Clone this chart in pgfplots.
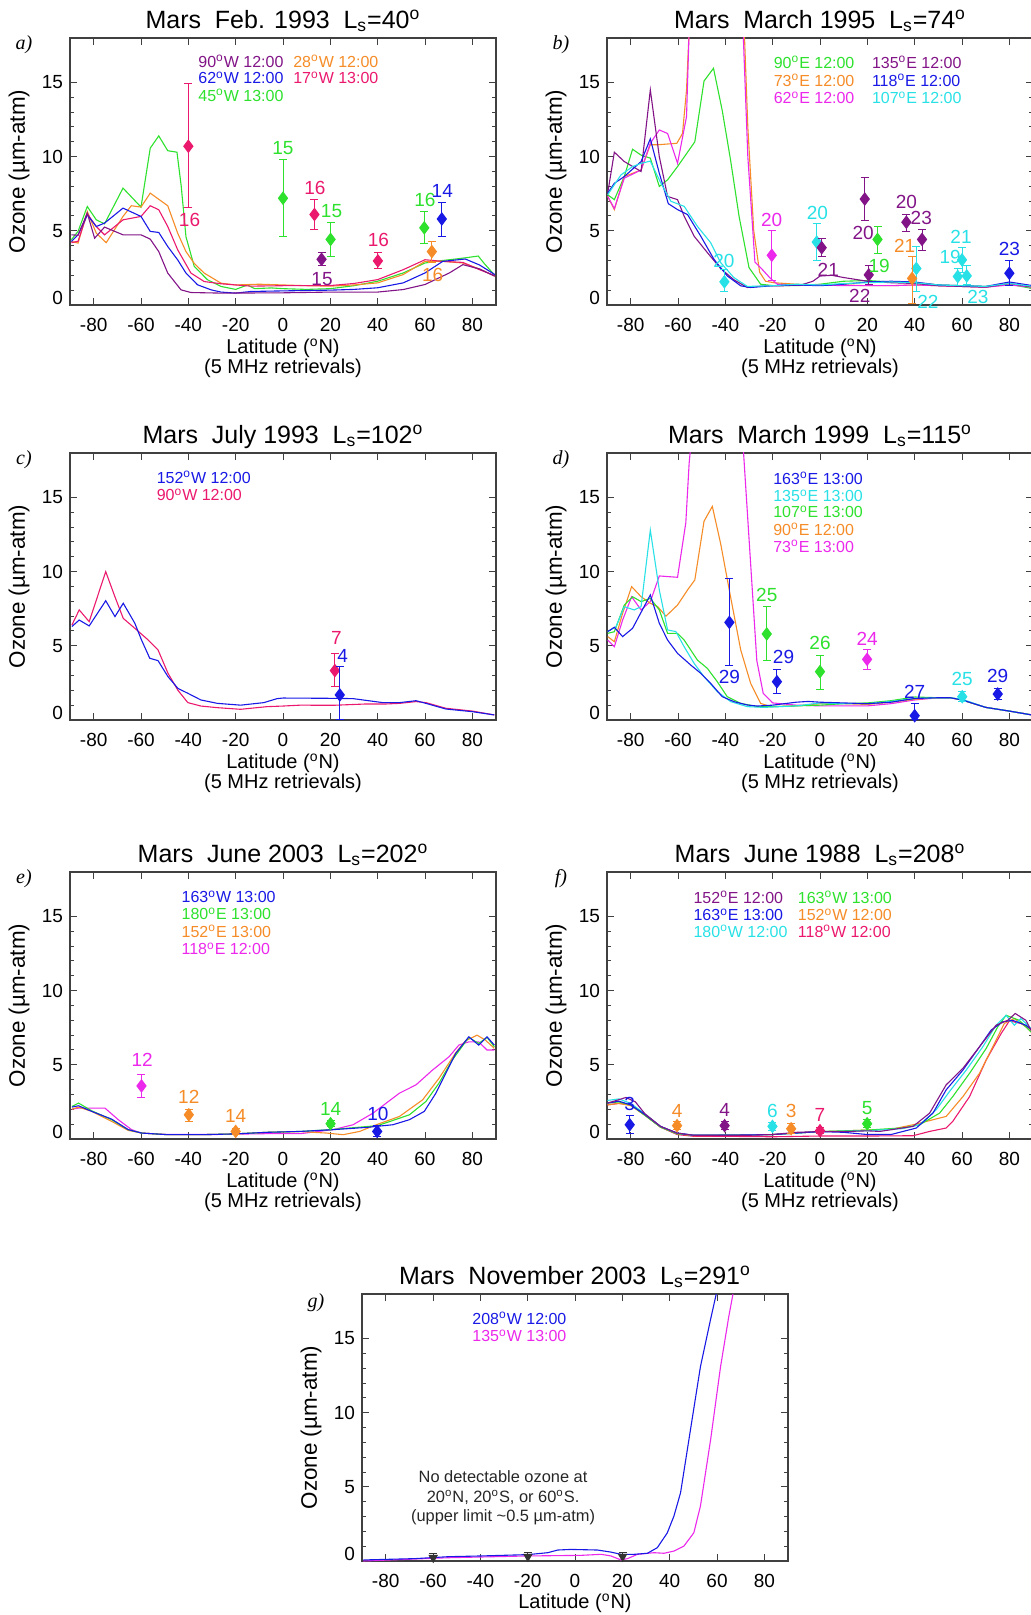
\documentclass[border=0pt]{standalone}
\usepackage{fontspec}
\setmainfont{Liberation Sans}
\newfontfamily\tnr{Liberation Serif}
\usepackage{pgfplots}
\pgfplotsset{compat=1.18}

\definecolor{mpurple}{RGB}{130,20,135}
\definecolor{mblue}{RGB}{25,25,230}
\definecolor{mgreen}{RGB}{45,225,45}
\definecolor{morange}{RGB}{245,140,40}
\definecolor{mpink}{RGB}{235,25,110}
\definecolor{mmag}{RGB}{235,40,235}
\definecolor{mcyan}{RGB}{40,225,230}

\newcommand\dg{\textsuperscript{o}}
\newcommand\tickf{\fontsize{9.5}{11}\selectfont}
\newcommand\titf{\fontsize{12.5}{14}\selectfont}
\newcommand\labf{\fontsize{10}{12}\selectfont}
\newcommand\ylf{\fontsize{11.2}{13}\selectfont}
\newcommand\legf{\fontsize{8}{9.5}\selectfont}
\newcommand\datf{\fontsize{9.5}{11}\selectfont}
\newcommand\notef{\fontsize{8.2}{9.7}\selectfont}
\newcommand\letf{\tnr\itshape\fontsize{10}{12}\selectfont}

% text annotations inside a panel
\newcommand\lab[4]{\node[text=#1,font=\datf,inner sep=0pt] at (axis cs:#2,#3) {#4};}
\newcommand\leg[4]{\node[text=#1,font=\legf,anchor=west,inner sep=0pt] at (axis cs:#2,#3) {#4};}

% title, panel letter and axis labels around a named panel
\newcommand\decor[4]{%
  \node[font=\titf,anchor=base] at ([yshift=4.8pt]#1.north) {#3};
  \node[font=\letf] at ([xshift=-23pt,yshift=-3.5pt]#1.north west) {#2};
  \node[font=\ylf,rotate=90] at ([xshift=-25.4pt]#1.west) {Ozone (µm-atm)};
  \node[font=\labf,anchor=base] at ([yshift=-24.5pt]#1.south) {Latitude (\dg N)};
  \node[font=\labf,anchor=base] at ([yshift=-34.2pt]#1.south) {#4};
}

\pgfplotsset{
  panel/.style={
    width=213pt, height=133.5pt, scale only axis,
    anchor=south west,
    xmin=-90, xmax=90, ymin=0, ymax=18,
    xtick={-80,-60,...,80}, ytick={0,5,10,15},
    yticklabels={\raisebox{3.3pt}[\height][\depth]{0},5,10,15},
    minor y tick num=4,
    tick align=inside,
    major tick length=3.5pt, minor tick length=2pt,
    axis line style={black!75, line width=0.6pt},
    every tick/.style={black!75, line width=0.5pt},
    ticklabel style={font=\tickf},
    xticklabel style={anchor=base, yshift=-13.3pt},
    /pgf/number format/assume math mode=true,
    clip mode=individual,
    every axis plot/.append style={line width=0.55pt},
  },
  pt/.style={only marks, mark=diamond*, mark size=3pt,
    error bars/.cd, y dir=both, y explicit,
    error bar style={line width=0.5pt},
    error mark options={rotate=90, mark size=2pt, line width=0.5pt}},
}

\begin{document}
\begin{tikzpicture}
\useasboundingbox (0,0) rectangle (515.5pt,807.5pt);

% ---------------- a) Feb 1993
\begin{axis}[panel, name=pa, at={(35pt,655pt)}]
\addplot[mgreen] coordinates {(-89.4,4.4)(-86.6,4.96)(-82.7,6.64)(-78.9,5.74)(-75.4,5.47)(-67.6,7.88)(-60,6.6)(-56.1,10.57)(-52.5,11.4)(-48.7,10.4)(-44.8,10.3)(-43,8)(-41,4.6)(-37.5,2.6)(-31.9,1.7)(-26.2,1.25)(-20,1.05)(-15,1.35)(-12,1.1)(-5,1.15)(0,1.1)(10,1.05)(20,1.1)(30,1.3)(40,1.6)(50.8,2.16)(60,2.83)(67.5,3.0)(73,3.1)(78,3.2)(82.5,3.3)(85,2.8)(89.5,2.0)};
\addplot[morange] coordinates {(-89.4,4.28)(-86.6,4.17)(-82.7,6.3)(-78.9,4.84)(-74.7,4.2)(-67.6,5.97)(-64.1,6.69)(-60,6.6)(-56.1,7.54)(-48.7,6.69)(-44.5,4.84)(-41,3.6)(-37.5,2.8)(-33.3,2.15)(-26.2,1.47)(-20,1.35)(-10,1.4)(0,1.35)(10,1.3)(20,1.27)(30,1.35)(40,1.49)(50.8,2.05)(60,2.94)(67.5,2.94)(76,2.83)(83,2.43)(89.5,1.94)};
\addplot[mpink] coordinates {(-89.4,4.2)(-86.6,4.3)(-82.7,6.15)(-78.9,5.29)(-75.4,4.73)(-67.6,5.74)(-60,5.97)(-56.1,6.69)(-52.5,6.42)(-48.7,5.29)(-44.5,3.72)(-38.9,2.15)(-33.3,1.58)(-26.2,1.43)(-20,1.35)(-13.6,1.27)(0,1.3)(20,1.31)(30,1.45)(40,1.71)(50.8,2.38)(60,3.05)(67.5,2.94)(76,2.87)(83,2.38)(89.5,1.98)};
\addplot[mblue] coordinates {(-89.4,4.28)(-86.6,4.73)(-82.7,6.08)(-78.9,5.29)(-75.4,5.52)(-67.6,6.53)(-60,5.97)(-56.1,4.96)(-52.5,4.89)(-48.7,3.94)(-44.5,3.04)(-41,2.15)(-36.1,1.36)(-30.4,1.02)(-26.2,0.87)(-20,0.8)(-13.6,0.91)(0,0.95)(20,1.0)(30,1.05)(40,1.16)(50.8,1.49)(60,2.16)(67.5,2.94)(77,3.1)(83,2.7)(89.5,2.05)};
\addplot[mpurple] coordinates {(-89.4,4.73)(-86.6,4.7)(-82.7,6.19)(-79.6,4.5)(-75.4,5.25)(-67.6,4.73)(-60,4.73)(-56.1,4.44)(-52.5,3.6)(-48.7,2.15)(-43.1,1.02)(-38.9,0.84)(-26.2,0.8)(0,0.82)(20,0.87)(40,0.87)(50.8,1.04)(60,1.38)(70.3,2.16)(76,2.72)(83,2.43)(89.5,1.94)};
\addplot[mpink, pt] coordinates {(-40,10.7) += (0,4.2) -= (0,4.16) (13.3,6.1) += (0,1.0) -= (0,1.0) (40.1,2.97) += (0,0.56) -= (0,0.51)};
\addplot[mgreen, pt] coordinates {(0,7.2) += (0,2.58) -= (0,2.6) (20.1,4.42) += (0,1.16) -= (0,1.12) (59.7,5.2) += (0,1.1) -= (0,1.05)};
\addplot[mpurple, pt] coordinates {(16.3,3.08) += (0,0.49) -= (0,0.45)};
\addplot[morange, pt] coordinates {(62.9,3.6) += (0,0.7) -= (0,0.74)};
\addplot[mblue, pt] coordinates {(67.1,5.8) += (0,1.14) -= (0,1.16)};
\lab{mpink}{-39.5}{5.76}{16}
\lab{mgreen}{0}{10.56}{15}
\lab{mpink}{13.5}{7.88}{16}
\lab{mgreen}{20.5}{6.3}{15}
\lab{mpurple}{16.5}{1.74}{15}
\lab{mpink}{40.3}{4.38}{16}
\lab{mgreen}{60}{7.1}{16}
\lab{morange}{63.2}{2.0}{16}
\lab{mblue}{67.3}{7.72}{14}
\leg{mpurple}{-35.9}{16.43}{90\dg W 12:00}
\leg{morange}{4.2}{16.43}{28\dg W 12:00}
\leg{mblue}{-35.9}{15.32}{62\dg W 12:00}
\leg{mpink}{4.2}{15.32}{17\dg W 13:00}
\leg{mgreen}{-35.9}{14.13}{45\dg W 13:00}
\end{axis}
\decor{pa}{a)}{Mars\hspace{0.55em}Feb. 1993\hspace{0.55em}L\textsubscript{s}=40\dg}{(5 MHz retrievals)}

% ---------------- b) March 1995
\begin{axis}[panel, name=pb, at={(303.5pt,655pt)}]
\addplot[mgreen] coordinates {(-89.7,7.43)(-86.9,7.1)(-82.7,8.66)(-79.2,10.5)(-75.6,10.1)(-71.7,9.9)(-67.9,7.99)(-64.4,8.44)(-60.2,9.33)(-52.9,11)(-49,15.1)(-45,15.96)(-41.3,13.1)(-37.8,9.78)(-34.2,5.98)(-30,2.52)(-25.1,1.4)(-19.5,1.3)(-10,1.3)(0,1.4)(10,1.6)(20,1.65)(30,1.55)(40,1.5)(50,1.35)(60,1.3)(70,1.25)(80,1.4)(90,1.1)};
\addplot[morange] coordinates {(-89.7,7.32)(-86.9,6.43)(-82.7,8.66)(-75.6,9.1)(-71.7,10.8)(-68.6,10.8)(-60.5,10.9)(-58.1,11.56)(-56.4,14.5)(-55.3,18.5)(-32,18.5)(-30.5,12)(-28,5)(-25.5,2.2)(-23,1.6)(-19.5,1.5)(-10,1.4)(0,1.35)(10,1.35)(20,1.3)(30,1.3)(40,1.35)(50,1.3)(60,1.25)(70,1.2)(80,1.4)(90,1.2)};
\addplot[mmag] coordinates {(-89.7,7.32)(-86.9,6.5)(-82.7,8.55)(-75.6,9.1)(-71.7,10.9)(-67.9,11.8)(-64.4,11.56)(-60.2,9.55)(-56.4,12.7)(-55.3,18.5)(-32.5,18.5)(-30.5,10)(-27.5,2.9)(-25,2.5)(-21,1.8)(-18,1.4)(-10,1.35)(0,1.35)(10,1.3)(20,1.3)(30,1.3)(40,1.35)(50,1.3)(60,1.25)(70,1.2)(80,1.35)(90,1.2)};
\addplot[mpurple] coordinates {(-89.7,7.54)(-86.9,10.3)(-82.7,9.67)(-75.6,9.0)(-71.7,14.5)(-67.9,10.0)(-64.4,7.32)(-60.2,7.1)(-57.4,5.98)(-53.2,4.64)(-47.6,3.53)(-42,2.46)(-36.4,1.7)(-30.7,1.18)(-23.7,1.29)(-15,1.3)(-8,1.35)(-3,1.6)(0,1.95)(5,2.0)(10,1.85)(20,1.6)(30,1.5)(40,1.45)(50,1.3)(60,1.25)(70,1.2)(80,1.45)(90,1.2)};
\addplot[mblue] coordinates {(-89.7,7.54)(-86.9,8.2)(-82.7,8.66)(-75.6,9.67)(-71.7,11.2)(-67.9,8.88)(-64.1,6.83)(-60.2,6.43)(-56,6.1)(-50.4,4.64)(-44.8,3.08)(-39.2,1.96)(-33.5,1.29)(-29.3,1.18)(-20,1.3)(-10,1.35)(0,1.3)(10,1.4)(20,1.55)(30,1.6)(40,1.55)(50,1.35)(60,1.3)(70,1.25)(80,1.55)(90,1.3)};
\addplot[mcyan] coordinates {(-89.7,7.43)(-84.1,8.77)(-79.2,9.33)(-75.6,9.55)(-71.7,9.7)(-67.2,8.2)(-63,6.99)(-57.4,6.65)(-51.8,5.3)(-46.2,4.2)(-42,2.86)(-36.4,1.85)(-30.7,1.25)(-20,1.3)(-10,1.4)(0,1.35)(10,1.45)(20,1.5)(30,1.55)(40,1.5)(50,1.35)(60,1.3)(70,1.25)(80,1.45)(90,1.25)};
\addplot[mcyan, pt] coordinates {(-40.4,1.56) += (0,0.81) -= (0,0.66) (-1.4,4.24) += (0,1.23) -= (0,1.27) (40.7,2.46) += (0,1.51) -= (0,1.56) (58.2,1.92) += (0,0.54) -= (0,0.63) (60,3.04) += (0,0.82) -= (0,0.85) (62,1.96) += (0,0.67) -= (0,0.56)};
\addplot[mmag, pt] coordinates {(-20.4,3.35) += (0,1.65) -= (0,1.68)};
\addplot[mpurple, pt] coordinates {(0.7,3.86) += (0,0.6) -= (0,0.62) (18.9,7.14) += (0,1.46) -= (0,1.43) (20.6,2.03) += (0,0.6) -= (0,0.63) (36.5,5.58) += (0,0.51) -= (0,0.6) (43.1,4.42) += (0,0.67) -= (0,0.72)};
\addplot[mgreen, pt] coordinates {(24.3,4.42) += (0,0.89) -= (0,0.94)};
\addplot[morange, pt] coordinates {(38.9,1.79) += (0,1.47) -= (0,1.72)};
\addplot[mblue, pt] coordinates {(80,2.14) += (0,0.83) -= (0,0.85)};
\lab{mcyan}{-40.6}{2.97}{20}
\lab{mmag}{-20.4}{5.76}{20}
\lab{mcyan}{-1.1}{6.2}{20}
\lab{mpurple}{3.5}{2.37}{21}
\lab{mpurple}{18.2}{4.87}{20}
\lab{mpurple}{16.8}{0.63}{22}
\lab{mgreen}{25}{2.63}{19}
\lab{mpurple}{36.5}{6.94}{20}
\lab{mpurple}{42.8}{5.87}{23}
\lab{morange}{35.8}{3.97}{21}
\lab{mcyan}{45.6}{0.18}{22}
\lab{mcyan}{55}{3.24}{19}
\lab{mcyan}{59.6}{4.6}{21}
\lab{mcyan}{66.7}{0.51}{23}
\lab{mblue}{80}{3.75}{23}
\leg{mgreen}{-19.7}{16.36}{90\dg E 12:00}
\leg{mpurple}{21.8}{16.36}{135\dg E 12:00}
\leg{morange}{-19.7}{15.13}{73\dg E 12:00}
\leg{mblue}{21.8}{15.13}{118\dg E 12:00}
\leg{mmag}{-19.7}{13.97}{62\dg E 12:00}
\leg{mcyan}{21.8}{13.97}{107\dg E 12:00}
\end{axis}
\decor{pb}{b)}{Mars\hspace{0.55em}March 1995\hspace{0.55em}L\textsubscript{s}=74\dg}{(5 MHz retrievals)}

% ---------------- c) July 1993
\begin{axis}[panel, name=pc, at={(35pt,447.5pt)}]
\addplot[mpink] coordinates {(-89.2,6.4)(-86.1,7.42)(-81.9,6.63)(-74.9,10)(-71,8.3)(-67.5,6.85)(-62.6,6.18)(-57,5.4)(-52.8,4.72)(-48.6,3.15)(-44.4,2.0)(-40.2,1.17)(-34.7,0.94)(-27.7,0.83)(-17.9,0.72)(-6.7,0.9)(0,0.94)(7.3,1.0)(21.2,0.99)(35.2,1.08)(43.6,1.08)(49.2,1.12)(56.2,1.24)(60.4,1.17)(68.8,0.79)(80,0.6)(89.3,0.34)};
\addplot[mblue] coordinates {(-89.2,6.3)(-86.1,6.74)(-81.9,6.34)(-74.9,8.04)(-71,6.97)(-67.5,7.87)(-62.6,6.52)(-59.8,5.4)(-56.3,4.16)(-52.8,4.0)(-48.6,2.92)(-44.4,2.13)(-40.2,1.8)(-34.7,1.35)(-27.7,1.12)(-17.9,1.0)(-8.1,1.17)(-2.5,1.44)(0,1.48)(21.2,1.46)(29.6,1.44)(42.2,1.17)(49.2,1.17)(56.2,1.3)(60.4,1.12)(68.8,0.74)(80,0.56)(89.3,0.34)};
\addplot[mpink, pt] coordinates {(21.9,3.33) += (0,1.16) -= (0,1.08)};
\addplot[mblue, pt] coordinates {(24,1.69) += (0,1.91) -= (0,1.69)};
\lab{mpink}{22.6}{5.5}{7}
\lab{mblue}{25.2}{4.3}{4}
\leg{mblue}{-53.5}{16.36}{152\dg W 12:00}
\leg{mpink}{-53.5}{15.17}{90\dg W 12:00}
\end{axis}
\decor{pc}{c)}{Mars\hspace{0.55em}July 1993\hspace{0.55em}L\textsubscript{s}=102\dg}{(5 MHz retrievals)}

% ---------------- d) March 1999
\begin{axis}[panel, name=pd, at={(303.5pt,447.5pt)}]
\addplot[mmag] coordinates {(-89.7,5.39)(-86.9,4.94)(-83.4,6.74)(-79.6,8.31)(-75.6,7.42)(-71.7,7.98)(-67.9,9.71)(-60.2,9.62)(-56.7,13.3)(-55.3,17.3)(-54.6,18.5)(-32.5,18.5)(-29.5,11)(-26.7,4.0)(-24,1.8)(-20,1.15)(-10,1.0)(0,0.95)(10,0.95)(20,0.95)(30,1.1)(40,1.35)(50,1.5)(55,1.5)(60,1.35)(70,0.85)(80,0.6)(89.5,0.34)};
\addplot[morange] coordinates {(-89.7,5.62)(-86.9,5.28)(-83.4,7.19)(-79.6,8.99)(-75.6,8.31)(-71.7,7.87)(-68.6,7.64)(-65.1,7.0)(-60.2,7.75)(-56,8.76)(-52.9,9.44)(-49,13.4)(-45.5,14.4)(-42,11.9)(-37.8,8.31)(-33.5,4.72)(-29.3,2.47)(-25.1,1.12)(-20.9,0.9)(-10,0.95)(0,1.1)(10,1.1)(20,1.05)(30,1.2)(40,1.4)(50,1.5)(55,1.5)(60,1.35)(70,0.85)(80,0.6)(89.5,0.34)};
\addplot[mgreen] coordinates {(-89.7,5.84)(-86.9,5.95)(-82.7,7.75)(-79.2,8.31)(-75.6,7.98)(-71.7,8.2)(-67.9,7.42)(-64.4,5.84)(-60.2,5.84)(-57.4,5.39)(-51.8,4.04)(-47.6,3.48)(-43.4,2.58)(-39.2,1.57)(-33.5,1.12)(-26.5,0.9)(-20,0.9)(-10,0.95)(0,1.0)(10,1.1)(20,1.15)(30,1.3)(40,1.55)(50,1.5)(55,1.5)(60,1.35)(70,0.85)(80,0.6)(89.5,0.34)};
\addplot[mcyan] coordinates {(-89.7,5.96)(-86.2,6.29)(-82.7,7.64)(-78.5,7.42)(-75.6,7.64)(-71.7,12.8)(-67.9,8.76)(-64.4,6.07)(-60.9,5.96)(-57.4,4.94)(-53.2,3.82)(-49,2.92)(-43.4,1.91)(-37.8,1.24)(-30.7,0.9)(-23.7,0.85)(-10,0.95)(0,1.15)(10,1.1)(20,1.1)(30,1.25)(40,1.45)(50,1.5)(55,1.5)(60,1.4)(70,0.85)(80,0.6)(89.5,0.34)};
\addplot[mblue] coordinates {(-89.7,5.96)(-86.9,6.25)(-83.4,5.62)(-79.2,6.18)(-71.7,8.43)(-67.9,6.52)(-64.4,5.39)(-60.2,4.49)(-54.6,3.7)(-50.4,3.15)(-46.2,2.47)(-41.3,1.57)(-36.4,1.24)(-30.7,1.01)(-26.5,0.94)(-20,1.0)(-10,1.2)(-5,1.25)(0,1.2)(10,1.15)(20,1.1)(30,1.2)(40,1.45)(50,1.5)(55,1.5)(60,1.35)(70,0.85)(80,0.6)(89.5,0.34)};
\addplot[mblue, pt] coordinates {(-38.3,6.58) += (0,2.97) -= (0,2.92) (-18.2,2.58) += (0,0.79) -= (0,0.78) (40,0.29) += (0,0.83) -= (0,0.29) (75.1,1.75) += (0,0.38) -= (0,0.36)};
\addplot[mgreen, pt] coordinates {(-22.5,5.8) += (0,1.84) -= (0,1.76) (0,3.26) += (0,1.12) -= (0,1.19)};
\addplot[mmag, pt] coordinates {(19.9,4.09) += (0,0.67) -= (0,0.67)};
\addplot[mcyan, pt] coordinates {(60.1,1.57) += (0,0.34) -= (0,0.33)};
\lab{mblue}{-38.3}{2.92}{29}
\lab{mgreen}{-22.5}{8.43}{25}
\lab{mblue}{-15.4}{4.27}{29}
\lab{mgreen}{0}{5.21}{26}
\lab{mmag}{19.9}{5.5}{24}
\lab{mblue}{40}{1.91}{27}
\lab{mcyan}{60.1}{2.74}{25}
\lab{mblue}{75.1}{2.97}{29}
\leg{mblue}{-19.9}{16.29}{163\dg E 13:00}
\leg{mcyan}{-19.9}{15.12}{135\dg E 13:00}
\leg{mgreen}{-19.9}{14.04}{107\dg E 13:00}
\leg{morange}{-19.9}{12.85}{90\dg E 12:00}
\leg{mmag}{-19.9}{11.69}{73\dg E 13:00}
\end{axis}
\decor{pd}{d)}{Mars\hspace{0.55em}March 1999\hspace{0.55em}L\textsubscript{s}=115\dg}{(5 MHz retrievals)}

% ---------------- e) June 2003
\begin{axis}[panel, name=pe, at={(35pt,238pt)}]
\addplot[mmag] coordinates {(-89.2,2.01)(-86.4,2.08)(-80.8,2.08)(-75.2,2.08)(-69.6,1.3)(-64,0.63)(-59.8,0.4)(-48.6,0.3)(-30,0.3)(-6.7,0.36)(7.3,0.36)(21.2,0.63)(29.6,0.96)(38,1.74)(49.2,3.09)(56.2,3.65)(63.2,4.65)(70.2,5.55)(74.3,6.33)(78.5,6.55)(82.7,6.55)(86.2,6.0)(89.3,6.0)};
\addplot[morange] coordinates {(-89.2,2.01)(-86.4,2.15)(-80.8,1.86)(-72.4,1.19)(-65.4,0.58)(-59.8,0.4)(-48.6,0.29)(-34.7,0.29)(-20.7,0.34)(-6.7,0.45)(7.3,0.5)(18.4,0.4)(25.4,0.29)(32.4,0.51)(39.4,0.96)(49.2,1.52)(59,2.64)(65.9,4.09)(73,5.82)(77.1,6.62)(82,7.0)(85.5,6.67)(89.3,6.11)};
\addplot[mgreen] coordinates {(-89.2,2.19)(-86.4,2.42)(-80.8,1.9)(-72.4,1.3)(-65.4,0.63)(-59.8,0.4)(-48.6,0.29)(-34.7,0.29)(-20.7,0.34)(-6.7,0.45)(7.3,0.51)(20,0.63)(40,0.9)(53.4,1.63)(60.4,2.53)(65.9,3.76)(71.5,5.32)(78.5,6.85)(82.7,6.44)(86.2,6.85)(89.3,6.22)};
\addplot[mblue] coordinates {(-89.2,2.15)(-86.4,2.24)(-80.8,1.86)(-72.4,1.34)(-65.4,0.63)(-59.8,0.4)(-48.6,0.29)(-34.7,0.29)(-20.7,0.34)(-6.7,0.45)(7.3,0.51)(21.2,0.63)(35.2,0.78)(46.4,0.96)(53.4,1.3)(59.7,1.86)(64.6,3.09)(68.8,4.43)(73,5.77)(78.5,6.89)(82.7,6.33)(86.2,6.89)(89.3,6.33)};
\addplot[mmag, pt] coordinates {(-59.8,3.58) += (0,0.8) -= (0,0.76)};
\addplot[morange, pt] coordinates {(-39.8,1.63) += (0,0.38) -= (0,0.44) (-20,0.51) += (0,0.18) -= (0,0.22)};
\addplot[mgreen, pt] coordinates {(20.1,1.03) += (0,0.2) -= (0,0.2)};
\addplot[mblue, pt] coordinates {(39.8,0.51) += (0,0.39) -= (0,0.33)};
\lab{mmag}{-59.5}{5.32}{12}
\lab{morange}{-39.8}{2.86}{12}
\lab{morange}{-20}{1.57}{14}
\lab{mgreen}{20.1}{2.01}{14}
\lab{mblue}{40.1}{1.7}{10}
\leg{mblue}{-43}{16.33}{163\dg W 13:00}
\leg{mgreen}{-43}{15.17}{180\dg E 13:00}
\leg{morange}{-43}{14.0}{152\dg E 13:00}
\leg{mmag}{-43}{12.82}{118\dg E 12:00}
\end{axis}
\decor{pe}{e)}{Mars\hspace{0.55em}June 2003\hspace{0.55em}L\textsubscript{s}=202\dg}{(5 MHz retrievals)}

% ---------------- f) June 1988
\begin{axis}[panel, name=pf, at={(303.5pt,238pt)}]
\addplot[mpink] coordinates {(-89.8,2.3)(-85,2.4)(-80,2.3)(-74,1.6)(-67.4,0.8)(-60.4,0.3)(-53.3,0.18)(-40,0.18)(-20,0.15)(0,0.2)(20,0.2)(39.3,0.22)(46.3,0.51)(53.3,0.74)(56.1,1.19)(63.2,2.86)(70.2,5.32)(76.5,7.1)(80,7.96)(84.9,7.79)(89.9,7.34)};
\addplot[morange] coordinates {(-89.8,2.3)(-85,2.4)(-80,2.25)(-74,1.6)(-67.4,0.8)(-60.4,0.35)(-53.3,0.22)(-20,0.3)(0,0.5)(20,0.6)(30,0.65)(39.3,0.96)(53.3,1.52)(60.4,2.86)(67.4,4.43)(73,6.22)(77.9,7.79)(82.1,8.12)(87,7.56)(89.9,7.1)};
\addplot[mgreen] coordinates {(-89.8,2.42)(-85,2.5)(-80,2.3)(-74,1.6)(-67.4,0.8)(-60.4,0.35)(-53.3,0.25)(-20,0.3)(0,0.5)(20,0.6)(35,0.75)(42.1,0.96)(50.5,1.74)(56.1,2.86)(63.2,4.43)(70.2,6.1)(75.1,7.56)(78.6,8.34)(84.2,8.0)(89.9,7.1)};
\addplot[mcyan] coordinates {(-89.8,2.6)(-85,2.7)(-80,2.4)(-74,1.7)(-67.4,0.85)(-60.4,0.4)(-53.3,0.25)(-20,0.3)(0,0.5)(20,0.55)(35,0.7)(42.1,0.96)(49.1,1.97)(54.7,3.2)(61.8,4.65)(68.8,6.22)(74.4,7.67)(78.6,8.34)(82.1,7.67)(84.9,8.12)(89.9,7.34)};
\addplot[mblue] coordinates {(-89.8,2.42)(-85,2.55)(-80,2.3)(-74,1.65)(-67.4,0.85)(-60.4,0.4)(-53.3,0.25)(-40,0.25)(-20,0.3)(-10,0.4)(0,0.5)(10,0.45)(20,0.3)(30,0.3)(40.7,0.74)(47.7,1.74)(53.3,3.31)(60.4,4.65)(67.4,6.22)(72.3,7.34)(77.2,7.9)(81.4,8.0)(87,7.67)(89.9,7.3)};
\addplot[mpurple] coordinates {(-89.8,2.42)(-86,2.6)(-82,2.8)(-78,2.5)(-74,1.7)(-67.4,0.85)(-60.4,0.4)(-53.3,0.25)(-40,0.25)(-30,0.25)(-20,0.3)(-10,0.45)(0,0.5)(10,0.5)(20,0.55)(25.3,0.51)(39.3,0.85)(46.3,1.74)(53.3,3.65)(60.4,4.77)(67.4,6.22)(74.4,7.67)(79.3,8.0)(82.5,8.46)(87,8.0)(89.9,7.1)};
\addplot[mblue, pt] coordinates {(-80.4,0.96) += (0,0.61) -= (0,0.6)};
\addplot[morange, pt] coordinates {(-60.4,0.9) += (0,0.29) -= (0,0.27) (-12.2,0.69) += (0,0.38) -= (0,0.33)};
\addplot[mpurple, pt] coordinates {(-40.3,0.9) += (0,0.29) -= (0,0.27)};
\addplot[mcyan, pt] coordinates {(-20.1,0.85) += (0,0.27) -= (0,0.27)};
\addplot[mpink, pt] coordinates {(0,0.56) += (0,0.24) -= (0,0.2)};
\addplot[mgreen, pt] coordinates {(19.9,1.03) += (0,0.27) -= (0,0.25)};
\lab{mblue}{-80.4}{2.37}{3}
\lab{morange}{-60.4}{1.9}{4}
\lab{mpurple}{-40.3}{1.97}{4}
\lab{mcyan}{-20.1}{1.9}{6}
\lab{morange}{-12.2}{1.86}{3}
\lab{mpink}{0}{1.63}{7}
\lab{mgreen}{19.9}{2.08}{5}
\leg{mpurple}{-53.6}{16.29}{152\dg E 12:00}
\leg{mgreen}{-9.5}{16.29}{163\dg W 13:00}
\leg{mblue}{-53.6}{15.12}{163\dg E 13:00}
\leg{morange}{-9.5}{15.12}{152\dg W 12:00}
\leg{mcyan}{-53.6}{14.0}{180\dg W 12:00}
\leg{mpink}{-9.5}{14.0}{118\dg W 12:00}
\end{axis}
\decor{pf}{f)}{Mars\hspace{0.55em}June 1988\hspace{0.55em}L\textsubscript{s}=208\dg}{(5 MHz retrievals)}

% ---------------- g) November 2003
\begin{axis}[panel, name=pg, at={(181pt,27pt)}]
\addplot[mmag] coordinates {(-89.4,0)(-53.6,0.22)(-19.9,0.34)(2.5,0.38)(11,0.45)(15.2,0.34)(19.4,0.07)(22.2,0.16)(26.4,0.45)(33.4,0.56)(37.6,0.52)(41.8,0.67)(46,1.0)(50.2,1.9)(53,3.7)(57.3,8.18)(61.5,13.1)(65,16.5)(67.1,18.3)};
\addplot[mblue] coordinates {(-89.4,0.07)(-67.6,0.16)(-53.6,0.29)(-39.6,0.34)(-19.9,0.43)(-11.5,0.56)(-7.3,0.74)(-1.7,0.78)(9.5,0.74)(15.2,0.6)(19.4,0.45)(25,0.45)(30.6,0.52)(34.8,0.9)(39,1.9)(41.8,3.03)(44.6,4.6)(48.8,8.86)(53,13.1)(57.3,16.3)(59.4,17.8)(60.1,18.3)};
\addplot[black!80, only marks, mark=triangle*, mark size=2.2pt, mark options={rotate=180},
  error bars/.cd, y dir=plus, y explicit, error bar style={line width=0.5pt},
  error mark options={rotate=90, mark size=2pt, line width=0.5pt}]
  coordinates {(-59.9,0.22) +- (0,0.3) (-19.9,0.29) +- (0,0.25) (20.1,0.29) +- (0,0.25)};
\leg{mblue}{-43.5}{16.35}{208\dg W 12:00}
\leg{mmag}{-43.5}{15.18}{135\dg W 13:00}
\node[font=\notef, text=black!85, align=center] at (axis cs:-30.4,4.26)
  {No detectable ozone at\\20\dg N, 20\dg S, or 60\dg S.\\(upper limit \textasciitilde 0.5 µm-atm)};
\end{axis}
\node[font=\titf,anchor=base] at ([yshift=4.8pt]pg.north) {Mars\hspace{0.55em}November 2003\hspace{0.55em}L\textsubscript{s}=291\dg};
\node[font=\letf] at ([xshift=-23pt,yshift=-4.5pt]pg.north west) {g)};
\node[font=\ylf,rotate=90] at ([xshift=-25.4pt]pg.west) {Ozone (µm-atm)};
\node[font=\labf,anchor=base] at ([yshift=-24pt]pg.south) {Latitude (\dg N)};
\end{tikzpicture}
\end{document}
